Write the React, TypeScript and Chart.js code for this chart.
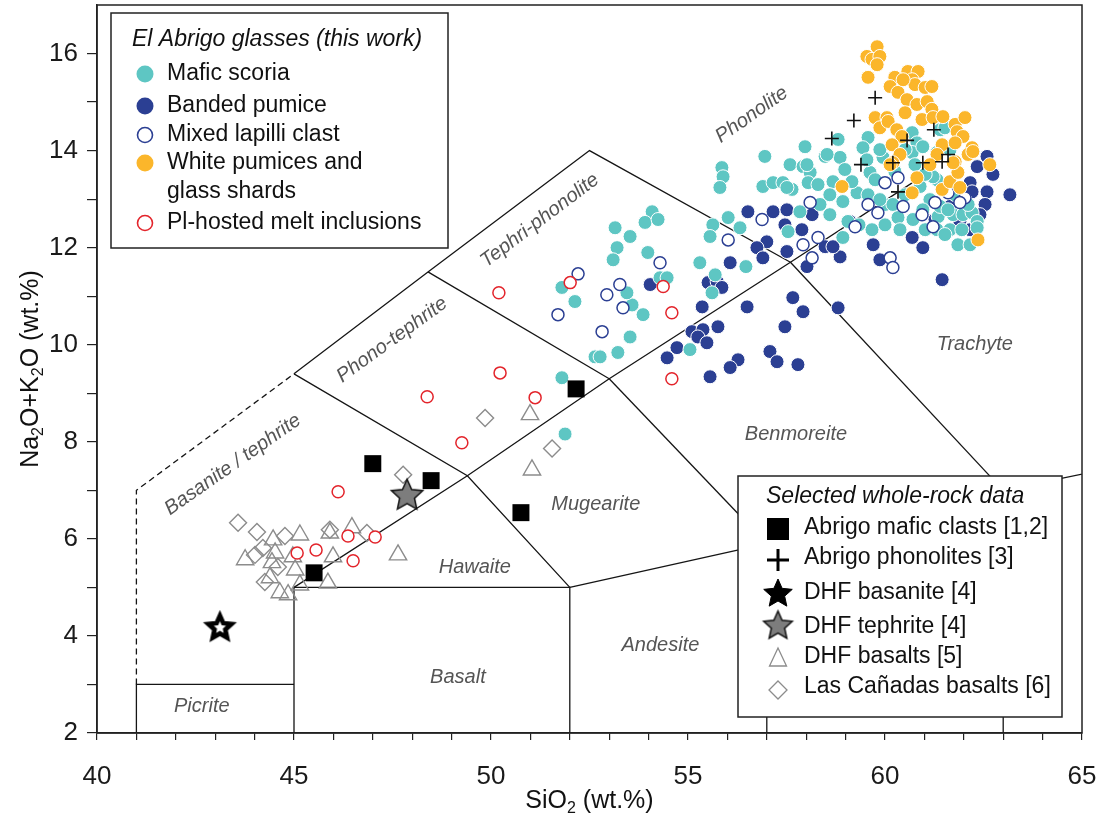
import React, { useEffect, useRef } from "react";
import { Chart, registerables } from "chart.js";

Chart.register(...registerables);

type Pt = [number, number];

// ---------------- data (SiO2 wt.%, Na2O+K2O wt.%) ----------------
const maficScoria: Pt[] = [
  [51.88, 8.16], [51.8, 9.32], [52.64, 9.75], [52.77, 9.75], [53.22, 9.84], [53.53, 10.16], [53.86, 10.62],
  [53.58, 10.82], [53.45, 11.07], [51.8, 11.18], [52.13, 10.89], [53.15, 12.41], [53.53, 12.23], [53.2, 12.0],
  [53.1, 11.75], [54.09, 12.74], [53.91, 12.52], [54.24, 12.58], [53.98, 11.9], [54.29, 11.38], [54.47, 11.38],
  [55.05, 9.9], [55.3, 11.69], [55.69, 11.44], [55.61, 11.07], [56.47, 11.61], [55.86, 13.65], [55.89, 13.46],
  [55.81, 13.24], [56.02, 12.62], [55.63, 12.47], [55.56, 12.23], [56.32, 12.41], [56.95, 13.88], [56.9, 13.26],
  [57.16, 13.34], [57.41, 13.34], [57.64, 13.2], [57.59, 13.71], [57.92, 13.67], [58.1, 13.55], [58.05, 13.34],
  [58.48, 13.88], [58.86, 13.86], [58.68, 13.36], [58.93, 12.95], [59.62, 13.55], [57.54, 12.33], [57.84, 12.74],
  [59.67, 12.37], [58.93, 12.21], [57.97, 14.08], [58.53, 13.92], [58.81, 14.23], [59.57, 14.27], [59.44, 14.06],
  [59.54, 13.81], [58.02, 13.71], [60.69, 14.37], [60.81, 14.16], [60.69, 13.96], [60.96, 14.08], [61.4, 14.43],
  [57.51, 13.24], [59.06, 12.54], [59.29, 13.13], [59.57, 13.09], [59.75, 13.4], [59.95, 13.86], [59.16, 13.36],
  [60.89, 13.26], [61.14, 12.99], [60.96, 12.78], [60.71, 12.58], [61.35, 12.64], [61.73, 12.68], [61.98, 12.68],
  [62.21, 12.72], [62.34, 12.54], [62.34, 12.41], [61.32, 12.37], [61.32, 13.4], [61.4, 12.85], [62.03, 12.99],
  [61.52, 14.47], [61.32, 13.96], [61.22, 13.46], [61.6, 12.78], [60.25, 13.57], [60.51, 14.02], [59.87, 14.02],
  [60.0, 12.89], [60.33, 12.62], [61.65, 12.37], [61.95, 12.37], [58.35, 12.89], [58.6, 12.68],
  [60.51, 13.09], [60.2, 12.89], [60.76, 13.71], [61.02, 13.51], [61.65, 14.02], [61.78, 13.09], [62.11, 12.89],
  [60.38, 12.37], [61.02, 12.37], [60.0, 12.47], [59.34, 12.47], [58.6, 13.09], [58.3, 13.3], [58.98, 13.61],
  [59.87, 12.99], [61.52, 12.27], [61.85, 12.06], [62.16, 12.06],
];
const bandedPumice: Pt[] = [
  [56.52, 12.74], [57.16, 12.74], [57.51, 12.78], [58.15, 12.68], [57.89, 12.37], [57.46, 12.47], [57.0, 12.12],
  [56.75, 12.0], [56.9, 11.79], [57.51, 11.92], [58.48, 12.02], [58.86, 11.81], [58.68, 12.02], [59.11, 12.54],
  [59.7, 12.06], [60.69, 12.21], [60.96, 12.0], [59.87, 11.75], [56.07, 11.69], [55.51, 11.28], [55.74, 11.3],
  [55.86, 11.18], [55.36, 10.78], [56.5, 10.78], [57.66, 10.97], [57.92, 10.68], [58.81, 10.76], [57.46, 10.37],
  [55.1, 10.27], [55.38, 10.31], [55.76, 10.37], [55.25, 10.16], [54.72, 9.94], [54.47, 9.73], [55.48, 10.04],
  [57.08, 9.86], [57.26, 9.65], [57.79, 9.59], [56.27, 9.69], [56.07, 9.53], [55.56, 9.34], [61.45, 11.34],
  [58.02, 11.61], [54.04, 11.24], [62.59, 13.88], [62.34, 13.67], [62.74, 13.51], [62.59, 13.15], [62.54, 12.89],
  [62.41, 12.68], [62.16, 12.37], [62.16, 13.34], [63.17, 13.09], [61.27, 12.58], [61.65, 12.85], [61.9, 12.54],
  [62.21, 13.15],
];
const mixedLapilliClast: Pt[] = [
  [58.1, 12.93], [56.88, 12.58], [56.02, 12.16], [57.92, 12.06], [58.3, 12.21], [58.15, 11.79], [59.24, 12.43],
  [59.57, 12.89], [59.82, 12.72], [60.0, 13.34], [60.46, 12.85], [60.94, 12.68], [61.22, 12.43], [60.13, 11.79],
  [60.2, 11.59], [54.29, 11.69], [53.27, 11.24], [52.94, 11.03], [53.35, 10.76], [52.21, 11.46], [51.7, 10.62],
  [52.82, 10.27], [60.33, 13.44], [61.6, 13.13], [62.03, 13.03], [61.9, 12.93], [61.27, 12.93],
];
const whitePumices: Pt[] = [
  [59.8, 16.14], [59.54, 15.94], [59.67, 15.88], [59.87, 15.94], [59.8, 15.77], [59.57, 15.51], [60.25, 15.51],
  [60.13, 15.32], [60.33, 15.2], [60.58, 15.63], [60.84, 15.63], [60.69, 15.46], [60.76, 15.36], [61.02, 15.3],
  [61.19, 15.32], [60.46, 15.46], [60.56, 15.05], [60.81, 14.95], [61.07, 15.01], [61.19, 14.85], [60.51, 14.78],
  [60.94, 14.64], [61.22, 14.68], [59.75, 14.68], [60.05, 14.68], [59.87, 14.47], [60.08, 14.6], [60.3, 14.43],
  [60.43, 14.29], [61.47, 14.7], [61.78, 14.54], [62.03, 14.68], [61.83, 14.39], [61.98, 14.29], [62.21, 14.06],
  [62.11, 13.92], [60.18, 14.12], [60.38, 13.92], [60.2, 13.75], [61.45, 14.12], [61.32, 13.92], [61.14, 13.71],
  [61.78, 13.77], [62.66, 13.71], [58.91, 13.26], [60.13, 13.71], [60.81, 13.44], [60.69, 13.13], [61.45, 13.2],
  [61.65, 13.36], [61.9, 13.24], [61.85, 13.55], [61.73, 13.75], [62.23, 13.98], [62.36, 12.16], [61.78, 14.16],
];
const plHostedMeltInclusions: Pt[] = [
  [50.2, 11.07], [52.01, 11.28], [54.37, 11.2], [54.59, 10.66], [54.59, 9.3], [50.23, 9.42], [48.38, 8.93],
  [51.12, 8.91], [49.26, 7.98], [46.12, 6.97], [46.37, 6.06], [47.06, 6.04], [46.5, 5.55], [45.08, 5.71],
  [45.56, 5.77],
];
const abrigoMaficClasts: Pt[] = [[47.0, 7.55], [48.48, 7.2], [50.76, 6.54], [45.51, 5.3], [52.16, 9.09]];
const abrigoPhonolites: Pt[] = [
  [59.75, 15.09], [59.21, 14.62], [58.65, 14.25], [59.39, 13.71], [60.2, 13.75], [60.56, 14.21], [61.24, 14.43],
  [60.96, 13.75], [61.45, 13.77], [61.6, 13.92], [60.33, 13.15],
];
const dhfBasanite: Pt[] = [[43.12, 4.19]];
const dhfTephrite: Pt[] = [[47.87, 6.91]];
const dhfBasalts: Pt[] = [
  [50.99, 8.56], [51.04, 7.42], [47.64, 5.67], [43.76, 5.57], [44.47, 5.98], [45.15, 6.08], [45.91, 6.12],
  [46.47, 6.23], [45.99, 5.63], [44.97, 5.63], [44.44, 5.51], [45.03, 5.36], [45.15, 5.05], [45.86, 5.09],
  [44.64, 4.89], [44.85, 4.85], [44.52, 5.71], [44.39, 5.2],
];
const lasCanadasBasalts: Pt[] = [
  [49.85, 8.49], [51.55, 7.86], [47.77, 7.32], [43.58, 6.33], [44.06, 6.14], [44.77, 6.06], [44.21, 5.81],
  [45.91, 6.19], [46.85, 6.12], [44.26, 5.11], [44.59, 5.42], [44.01, 5.67],
];

const xTickLabels = [40, 45, 50, 55, 60, 65];
const yTickLabels = [2, 4, 6, 8, 10, 12, 14, 16];

// TAS field boundaries (data coordinates)
const solidBoundaries: Pt[][] = [
  [[41, 2], [41, 3], [45, 3]],
  [[45, 2], [45, 5], [52, 5], [52, 2]],
  [[52, 5], [57, 5.9], [63, 7], [69, 8]],
  [[57, 2], [57, 5.9]],
  [[63, 2], [63, 7]],
  [[45, 5], [49.4, 7.3], [53, 9.3], [57.6, 11.7], [61, 13.5]],
  [[45, 9.4], [49.4, 7.3], [52, 5]],
  [[53, 9.3], [57, 5.9]],
  [[57.6, 11.7], [63, 7]],
  [[45, 9.4], [48.4, 11.5], [52.5, 14], [57.6, 11.7]],
  [[48.4, 11.5], [53, 9.3]],
];
const dashedBoundaries: Pt[][] = [[[41, 3], [41, 7], [45, 9.4]]];

const fieldNames = [
  "Picrite", "Basalt", "Andesite", "Hawaite", "Mugearite", "Benmoreite", "Trachyte",
  "Phonolite", "Tephri-phonolite", "Phono-tephrite", "Basanite / tephrite",
];
const fieldAnchors: Pt[] = [
  [42.66, 2.54], [49.16, 3.15], [54.3, 3.8], [49.59, 5.42], [52.66, 6.7], [57.74, 8.16], [62.28, 10.0],
  [56.62, 14.74], [51.24, 12.56], [47.49, 10.1], [43.45, 7.53],
];
const fieldAngles = [0, 0, 0, 0, 0, 0, 0, -35, -37, -36, -35];

// ---------------- styles ----------------
const FONT = "'Liberation Sans', Arial, Helvetica, sans-serif";
const TEAL = "#5ec6c3";
const NAVY = "#2b3f93";
const YELLOW = "#fbb62b";
const RED = "#e3242b";
const GREY = "#8c8c8c";

Chart.defaults.font.family = FONT;

function starPath(ctx: CanvasRenderingContext2D, cx: number, cy: number, R: number, r: number) {
  ctx.beginPath();
  for (let i = 0; i < 10; i++) {
    const a = -Math.PI / 2 + (i * Math.PI) / 5;
    const rad = i % 2 === 0 ? R : r;
    const px = cx + Math.cos(a) * rad;
    const py = cy + Math.sin(a) * rad;
    if (i === 0) ctx.moveTo(px, py);
    else ctx.lineTo(px, py);
  }
  ctx.closePath();
}

function makeStar(R: number, r: number, fill: string, stroke: string, lw: number, inner?: string) {
  const size = Math.ceil(2 * R + 2 * lw + 4);
  const c = document.createElement("canvas");
  c.width = size;
  c.height = size;
  const ctx = c.getContext("2d")!;
  starPath(ctx, size / 2, size / 2 + 1, R, r);
  ctx.fillStyle = fill;
  ctx.fill();
  ctx.lineWidth = lw;
  ctx.strokeStyle = stroke;
  ctx.lineJoin = "miter";
  ctx.stroke();
  if (inner) {
    starPath(ctx, size / 2, size / 2 + 1, R * 0.4, r * 0.4);
    ctx.fillStyle = inner;
    ctx.fill();
  }
  return c;
}

function drawRich(ctx: CanvasRenderingContext2D, parts: [string, boolean][], size: number) {
  const widths = parts.map(([t, sub]) => {
    ctx.font = `${sub ? Math.round(size * 0.62) : size}px ${FONT}`;
    return ctx.measureText(t).width;
  });
  const total = widths.reduce((a, b) => a + b, 0);
  let cx = -total / 2;
  ctx.textAlign = "left";
  ctx.textBaseline = "middle";
  parts.forEach(([t, sub], i) => {
    ctx.font = `${sub ? Math.round(size * 0.62) : size}px ${FONT}`;
    ctx.fillText(t, cx, sub ? size * 0.3 : 0);
    cx += widths[i];
  });
}

function circle(ctx: CanvasRenderingContext2D, x: number, y: number, r: number, fill: string | null, stroke: string | null, lw = 1.5) {
  ctx.beginPath();
  ctx.arc(x, y, r, 0, Math.PI * 2);
  if (fill) {
    ctx.fillStyle = fill;
    ctx.fill();
  }
  if (stroke) {
    ctx.lineWidth = lw;
    ctx.strokeStyle = stroke;
    ctx.stroke();
  }
}

function makePlugin(legendStars: { black: HTMLCanvasElement; grey: HTMLCanvasElement }) {
  return {
    id: "tasDecor",
    beforeDatasetsDraw(chart: any) {
      const { ctx, chartArea: a, scales } = chart;
      const xs = scales.x;
      const ys = scales.y;
      ctx.save();
      ctx.beginPath();
      ctx.rect(a.left, a.top, a.right - a.left, a.bottom - a.top);
      ctx.clip();
      ctx.strokeStyle = "#151515";
      ctx.lineWidth = 1.3;
      const path = (pts: Pt[]) => {
        ctx.beginPath();
        pts.forEach(([vx, vy], i) => {
          const px = xs.getPixelForValue(vx);
          const py = ys.getPixelForValue(vy);
          if (i === 0) ctx.moveTo(px, py);
          else ctx.lineTo(px, py);
        });
        ctx.stroke();
      };
      solidBoundaries.forEach(path);
      ctx.setLineDash([6, 4]);
      dashedBoundaries.forEach(path);
      ctx.setLineDash([]);
      ctx.fillStyle = "#555";
      ctx.font = `italic 20px ${FONT}`;
      ctx.textAlign = "center";
      ctx.textBaseline = "middle";
      fieldNames.forEach((name, i) => {
        const px = xs.getPixelForValue(fieldAnchors[i][0]);
        const py = ys.getPixelForValue(fieldAnchors[i][1]);
        ctx.save();
        ctx.translate(px, py);
        ctx.rotate((fieldAngles[i] * Math.PI) / 180);
        ctx.fillText(name, 0, 0);
        ctx.restore();
      });
      ctx.restore();
    },
    afterDraw(chart: any) {
      const { ctx, chartArea: a } = chart;
      ctx.save();
      // frame
      ctx.strokeStyle = "#222";
      ctx.lineWidth = 1.5;
      ctx.strokeRect(a.left, a.top, a.right - a.left, a.bottom - a.top);

      // axis titles
      ctx.fillStyle = "#111";
      ctx.save();
      ctx.translate((a.left + a.right) / 2, 801);
      drawRich(ctx, [["SiO", false], ["2", true], [" (wt.%)", false]], 25);
      ctx.restore();
      ctx.save();
      ctx.translate(31, (a.top + a.bottom) / 2);
      ctx.rotate(-Math.PI / 2);
      drawRich(ctx, [["Na", false], ["2", true], ["O+K", false], ["2", true], ["O (wt.%)", false]], 25);
      ctx.restore();

      // legend 1
      const box = (l: number, t: number, r: number, b: number) => {
        ctx.fillStyle = "#fff";
        ctx.fillRect(l, t, r - l, b - t);
        ctx.strokeStyle = "#222";
        ctx.lineWidth = 1.5;
        ctx.strokeRect(l, t, r - l, b - t);
      };
      box(111, 13, 448, 248);
      ctx.fillStyle = "#111";
      ctx.textAlign = "left";
      ctx.textBaseline = "middle";
      ctx.font = `italic 23px ${FONT}`;
      ctx.fillText("El Abrigo glasses (this work)", 132, 40);
      ctx.font = `23px ${FONT}`;
      const l1x = 145;
      const t1x = 167;
      circle(ctx, l1x, 74, 8.5, TEAL, null);
      circle(ctx, l1x, 106, 8.5, NAVY, null);
      circle(ctx, l1x, 135, 7.5, "#fff", NAVY, 1.6);
      circle(ctx, l1x, 163, 8.5, YELLOW, null);
      circle(ctx, l1x, 223, 7.5, "#fff", RED, 1.6);
      ctx.fillStyle = "#111";
      ctx.fillText("Mafic scoria", t1x, 74);
      ctx.fillText("Banded pumice", t1x, 106);
      ctx.fillText("Mixed lapilli clast", t1x, 135);
      ctx.fillText("White pumices and", t1x, 163);
      ctx.fillText("glass shards", t1x, 192);
      ctx.fillText("Pl-hosted melt inclusions", t1x, 223);

      // legend 2
      box(738, 476, 1062, 717);
      ctx.fillStyle = "#111";
      ctx.font = `italic 23px ${FONT}`;
      ctx.fillText("Selected whole-rock data", 766, 497);
      ctx.font = `23px ${FONT}`;
      const mx = 778;
      const tx = 804;
      ctx.fillStyle = "#000";
      ctx.fillRect(mx - 11, 529 - 11, 22, 22);
      ctx.strokeStyle = "#000";
      ctx.lineWidth = 3;
      ctx.beginPath();
      ctx.moveTo(mx - 11, 560);
      ctx.lineTo(mx + 11, 560);
      ctx.moveTo(mx, 549);
      ctx.lineTo(mx, 571);
      ctx.stroke();
      ctx.drawImage(legendStars.black, mx - legendStars.black.width / 2, 593 - legendStars.black.height / 2);
      ctx.drawImage(legendStars.grey, mx - legendStars.grey.width / 2, 625 - legendStars.grey.height / 2);
      ctx.strokeStyle = GREY;
      ctx.lineWidth = 1.3;
      ctx.beginPath();
      ctx.moveTo(mx, 648);
      ctx.lineTo(mx + 8.5, 666);
      ctx.lineTo(mx - 8.5, 666);
      ctx.closePath();
      ctx.stroke();
      ctx.beginPath();
      ctx.moveTo(mx, 681);
      ctx.lineTo(mx + 9, 690);
      ctx.lineTo(mx, 699);
      ctx.lineTo(mx - 9, 690);
      ctx.closePath();
      ctx.stroke();
      ctx.fillStyle = "#111";
      ctx.fillText("Abrigo mafic clasts [1,2]", tx, 528);
      ctx.fillText("Abrigo phonolites [3]", tx, 558);
      ctx.fillText("DHF basanite [4]", tx, 593);
      ctx.fillText("DHF tephrite [4]", tx, 627);
      ctx.fillText("DHF basalts [5]", tx, 657);
      ctx.fillText("Las Ca\u00f1adas basalts [6]", tx, 687);
      ctx.restore();
    },
  };
}

const toXY = (arr: Pt[]) => arr.map(([x, y]) => ({ x, y }));

export default function App() {
  const ref = useRef<HTMLCanvasElement>(null);

  useEffect(() => {
    document.body.style.margin = "0";
    const plotBasanite = makeStar(16, 7.5, "#000", "#000", 1.5, "#fff");
    const plotTephrite = makeStar(16.5, 7.8, "#7d7d7d", "#111", 1.5);
    const legBasanite = makeStar(15, 7, "#000", "#000", 1);
    const legTephrite = makeStar(15, 7, "#7d7d7d", "#111", 1.5);

    const circleDs = (label: string, data: Pt[], fill: string) => ({
      label,
      data: toXY(data),
      pointStyle: "circle",
      pointRadius: 7,
      backgroundColor: fill,
      borderColor: "#ffffff",
      borderWidth: 1,
    });
    const openDs = (label: string, data: Pt[], stroke: string) => ({
      label,
      data: toXY(data),
      pointStyle: "circle",
      pointRadius: 6,
      backgroundColor: "#ffffff",
      borderColor: stroke,
      borderWidth: 1.5,
    });

    const chart = new Chart(ref.current!, {
      type: "scatter",
      data: {
        datasets: [
          { label: "Abrigo phonolites [3]", data: toXY(abrigoPhonolites), pointStyle: "cross", pointRadius: 7, borderColor: "#111", backgroundColor: "#111", borderWidth: 1.6 },
          { label: "Abrigo mafic clasts [1,2]", data: toXY(abrigoMaficClasts), pointStyle: "rect", pointRadius: 12, borderColor: "#000", backgroundColor: "#000", borderWidth: 0 },
          { label: "DHF basanite [4]", data: toXY(dhfBasanite), pointStyle: plotBasanite, pointRadius: 16 },
          { label: "DHF tephrite [4]", data: toXY(dhfTephrite), pointStyle: plotTephrite, pointRadius: 16 },
          openDs("Pl-hosted melt inclusions", plHostedMeltInclusions, RED),
          circleDs("White pumices and glass shards", whitePumices, YELLOW),
          openDs("Mixed lapilli clast", mixedLapilliClast, NAVY),
          circleDs("Mafic scoria", maficScoria, TEAL),
          circleDs("Banded pumice", bandedPumice, NAVY),
          { label: "DHF basalts [5]", data: toXY(dhfBasalts), pointStyle: "triangle", pointRadius: 10, borderColor: GREY, backgroundColor: "rgba(255,255,255,0)", borderWidth: 1.4 },
          { label: "Las Ca\u00f1adas basalts [6]", data: toXY(lasCanadasBasalts), pointStyle: "rectRot", pointRadius: 8.5, borderColor: GREY, backgroundColor: "rgba(255,255,255,0)", borderWidth: 1.4 },
        ] as any,
      },
      options: {
        responsive: false,
        animation: false,
        devicePixelRatio: 1,
        layout: { autoPadding: false, padding: { left: 0, top: 5, right: 22, bottom: 0 } },
        plugins: { legend: { display: false }, tooltip: { enabled: false } },
        scales: {
          x: {
            type: "linear",
            min: 40,
            max: 65,
            ticks: {
              stepSize: 1,
              autoSkip: false,
              maxRotation: 0,
              padding: 21,
              color: "#1a1a1a",
              font: { size: 26 },
              callback: (v: any) => (xTickLabels.includes(Math.round(Number(v))) ? String(Math.round(Number(v))) : ""),
            },
            grid: { drawOnChartArea: false, tickLength: 7, color: "#222", lineWidth: 1.2 },
            border: { display: true, color: "#222", width: 1.5 },
            afterFit: (s: any) => {
              s.height = 102;
              s.paddingLeft = 0;
              s.paddingRight = 0;
            },
          },
          y: {
            type: "linear",
            min: 2,
            max: 17,
            ticks: {
              stepSize: 1,
              autoSkip: false,
              padding: 9,
              color: "#1a1a1a",
              font: { size: 26 },
              callback: (v: any) => {
                const n = Math.round(Number(v));
                if (n >= 17) return null;
                return yTickLabels.includes(n) ? String(n) : "";
              },
            },
            grid: { drawOnChartArea: false, tickLength: 10, color: "#222", lineWidth: 1.2 },
            border: { display: true, color: "#222", width: 1.5 },
            afterFit: (s: any) => {
              s.width = 97;
              s.paddingTop = 0;
              s.paddingBottom = 0;
            },
          },
        },
      } as any,
      plugins: [makePlugin({ black: legBasanite, grey: legTephrite })],
    });
    return () => chart.destroy();
  }, []);

  return (
    <div style={{ width: 1104, height: 835, background: "#fff" }}>
      <canvas ref={ref} width={1104} height={835} style={{ display: "block" }} />
    </div>
  );
}
